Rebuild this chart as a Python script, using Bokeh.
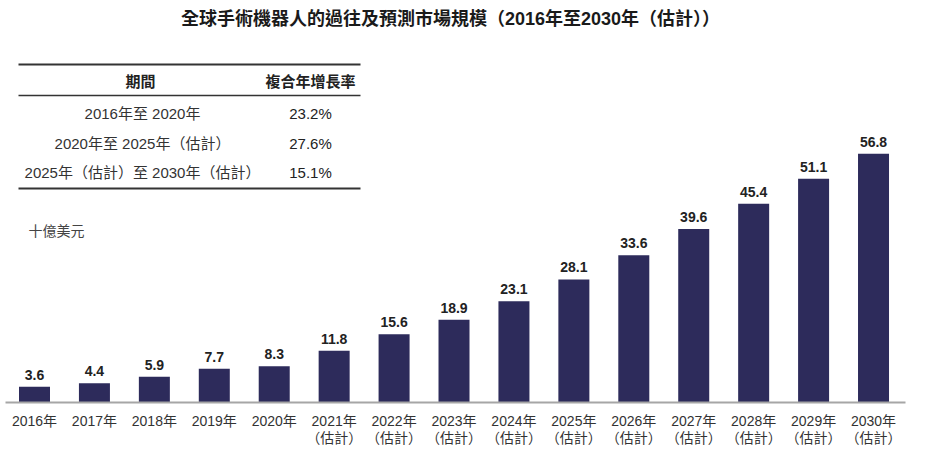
from bokeh.plotting import figure
from bokeh.models import Range1d, ColumnDataSource
from bokeh.core.properties import value
from bokeh.embed import file_html
from bokeh.resources import INLINE

# ---------------- data ----------------
years = ["2016年", "2017年", "2018年", "2019年", "2020年", "2021年", "2022年", "2023年",
         "2024年", "2025年", "2026年", "2027年", "2028年", "2029年", "2030年"]
is_estimate = [False, False, False, False, False, True, True, True,
               True, True, True, True, True, True, True]
market_size = [3.6, 4.4, 5.9, 7.7, 8.3, 11.8, 15.6, 18.9, 23.1, 28.1, 33.6, 39.6, 45.4, 51.1, 56.8]
value_labels = ["3.6", "4.4", "5.9", "7.7", "8.3", "11.8", "15.6", "18.9", "23.1", "28.1",
                "33.6", "39.6", "45.4", "51.1", "56.8"]
estimate_note = "（估計）"

cagr_header = ["期間", "複合年增長率"]
cagr_periods = ["2016年至 2020年", "2020年至 2025年（估計）", "2025年（估計）至 2030年（估計）"]
cagr_values = ["23.2%", "27.6%", "15.1%"]

title_text = "全球手術機器人的過往及預測市場規模（2016年至2030年（估計））"
unit_text = "十億美元"

# ---------------- layout helpers ----------------
W, H = 926, 451
SX = 59.93          # px per category
SY = 4.38           # px per unit
X0 = -34 / SX       # first bar centre at 34 px
BASE = 402          # baseline in pixels from top
def X(px):          # pixel -> data x
    return X0 + px / SX
def Y(py):          # pixel -> data y
    return (BASE - py) / SY

FONT = value("Liberation Sans, Noto Sans CJK TC")
BAR_COLOR = "#2d2b5b"
TEXT = "#333333"

p = figure(width=W, height=H, output_backend="svg", toolbar_location=None,
           x_range=Range1d(X0, X0 + W / SX), y_range=Range1d(-(H - BASE) / SY, BASE / SY),
           min_border_left=0, min_border_right=0, min_border_top=0, min_border_bottom=0)
p.axis.visible = False
p.grid.visible = False
p.outline_line_color = None
p.background_fill_color = "white"
p.border_fill_color = "white"

idx = list(range(len(years)))
src = ColumnDataSource(dict(
    x=idx, top=market_size, lab=value_labels,
    laby=[v + 1.6 for v in market_size], year=years,
    yeary=[Y(420)] * len(years),
))
p.vbar(x="x", top="top", bottom=0, width=31 / SX, source=src,
       fill_color=BAR_COLOR, line_color=None)
p.text(x="x", y="laby", text="lab", source=src, text_align="center", text_baseline="bottom",
       text_font=FONT, text_font_style="bold", text_font_size="14px", text_color="#222222")

# baseline
p.segment(x0=[X(5)], y0=[0], x1=[X(905)], y1=[0], line_color="#a6a6a6", line_width=2)

# x tick labels
p.text(x="x", y="yeary", text="year", source=src, text_align="center",
       text_baseline="middle", text_font=FONT, text_font_size="14px", text_color=TEXT)
est_x = [i for i, e in zip(idx, is_estimate) if e]
p.text(x=est_x, y=[Y(437)] * len(est_x), text=[estimate_note] * len(est_x), text_align="center",
       text_baseline="middle", text_font=FONT, text_font_size="14px", text_color=TEXT)

# title
p.text(x=[X(450)], y=[Y(18)], text=[title_text], text_align="center", text_baseline="middle",
       text_font=FONT, text_font_style="bold", text_font_size="18px", text_color="#1a1a1a")

# CAGR table
p.segment(x0=[X(18)] * 3, y0=[Y(64), Y(95), Y(188)], x1=[X(360)] * 3, y1=[Y(64), Y(95), Y(188)],
          line_color="#333333", line_width=[2, 1.5, 2])
p.text(x=[X(140), X(310)], y=[Y(81)] * 2, text=cagr_header, text_align="center",
       text_baseline="middle", text_font=FONT, text_font_style="bold", text_font_size="15px",
       text_color="#222222")
row_y = [Y(113), Y(143), Y(172)]
p.text(x=[X(142)] * 3, y=row_y, text=cagr_periods, text_align="center", text_baseline="middle",
       text_font=FONT, text_font_size="15px", text_color=TEXT)
p.text(x=[X(310)] * 3, y=row_y, text=cagr_values, text_align="center", text_baseline="middle",
       text_font=FONT, text_font_size="15px", text_color="#222222")

# unit
p.text(x=[X(28)], y=[Y(230)], text=[unit_text], text_align="left", text_baseline="middle",
       text_font=FONT, text_font_size="14px", text_color="#444444")

open("out.html", "w").write(file_html(p, INLINE))
